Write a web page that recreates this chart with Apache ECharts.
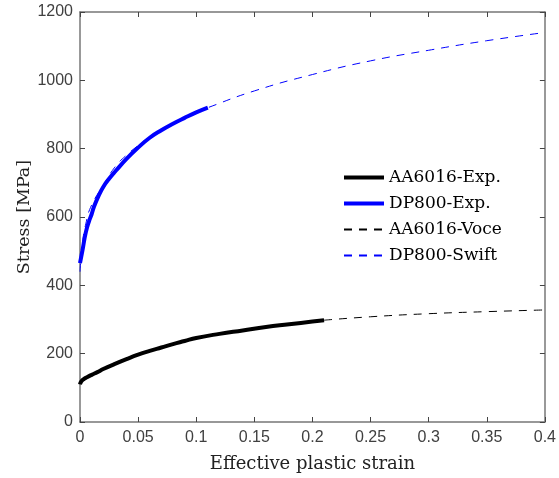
<!DOCTYPE html>
<html>
<head>
<meta charset="utf-8">
<script src="https://cdn.jsdelivr.net/npm/echarts@6/dist/echarts.min.js"></script>
<style>
  html, body { margin: 0; padding: 0; background: #fff; }
  #chart { width: 559px; height: 478px; }
</style>
</head>
<body>
<div id="chart"></div>
<script>
// AA6016 experiment
const aaExpStrain = [0, 0.001, 0.003, 0.006, 0.01, 0.015, 0.02, 0.03, 0.04, 0.05, 0.06, 0.07, 0.08, 0.09, 0.1, 0.12, 0.14, 0.16, 0.18, 0.2, 0.21];
const aaExpStress = [110, 118, 125, 131, 138, 146, 155, 170, 184, 197, 208, 218, 228, 237, 246, 258, 268, 278, 286, 294, 298];
// DP800 experiment
const dpExpStrain = [0, 0.002, 0.005, 0.008, 0.01, 0.012, 0.016, 0.02, 0.025, 0.031, 0.04, 0.05, 0.06, 0.07, 0.08, 0.09, 0.1, 0.11];
const dpExpStress = [465, 500, 555, 590, 608, 630, 662, 688, 712, 736, 770, 803, 832, 854, 873, 890, 906, 920];
// AA6016 Voce fit (extrapolated part)
const aaVoceStrain = [0.21, 0.25, 0.3, 0.35, 0.4];
const aaVoceStress = [298, 308, 317, 323, 328];
// DP800 Swift fit
const dpSwiftStrain = [0, 0.002, 0.005, 0.01, 0.02, 0.03, 0.04, 0.05, 0.06, 0.07, 0.08, 0.09, 0.1, 0.11, 0.15, 0.2, 0.25, 0.3, 0.35, 0.4];
const dpSwiftStress = [440, 520, 580, 635, 692, 746, 781, 809, 834, 855, 874, 889, 906, 920, 969, 1017, 1057, 1088, 1116, 1140];

const xTicks = [0, 0.05, 0.1, 0.15, 0.2, 0.25, 0.3, 0.35, 0.4];

function pairs(xs, ys) {
  return xs.map((x, i) => [x, ys[i]]);
}

const axisGrey = '#777';
const labelColor = '#404040';
const serif = '"DejaVu Serif", "Liberation Serif", serif';
const sans = '"Liberation Sans", Arial, sans-serif';

let chart = echarts.init(document.getElementById('chart'));

let option = {
  animation: false,
  grid: { left: 80, right: 11, top: 12, bottom: 55 },
  legend: {
    orient: 'vertical',
    left: 337,
    top: 164,
    itemWidth: 40,
    itemHeight: 20,
    itemGap: 9,
    itemStyle: { opacity: 0 },
    textStyle: { fontFamily: serif, fontSize: 17, color: '#000' },
    data: [
      { name: 'AA6016-Exp.', lineStyle: { width: 4 } },
      { name: 'DP800-Exp.', lineStyle: { width: 4 } },
      { name: 'AA6016-Voce' },
      { name: 'DP800-Swift' }
    ]
  },
  xAxis: [
    {
      type: 'value', min: 0, max: 0.4, interval: 0.05,
      name: 'Effective plastic strain', nameLocation: 'middle', nameGap: 33,
      nameTextStyle: { fontFamily: serif, fontSize: 18, color: '#222' },
      axisLine: { onZero: false, lineStyle: { color: axisGrey, width: 1.5 } },
      axisTick: { inside: true, length: 5, lineStyle: { color: '#444' } },
      axisLabel: {
        margin: 8, fontFamily: sans, fontSize: 16, color: labelColor,
        formatter: v => xTicks.includes(+v.toFixed(2)) ? String(+v.toFixed(2)) : ''
      },
      splitLine: { show: false }
    },
    {
      type: 'value', min: 0, max: 0.4, interval: 0.05, position: 'top',
      axisLine: { onZero: false, lineStyle: { color: axisGrey, width: 1.5 } },
      axisTick: { inside: true, length: 5, lineStyle: { color: '#444' } },
      axisLabel: { show: false },
      splitLine: { show: false }
    }
  ],
  yAxis: [
    {
      type: 'value', min: 0, max: 1200, interval: 200,
      name: 'Stress [MPa]', nameLocation: 'middle', nameGap: 47, nameMoveOverlap: false,
      nameTextStyle: { fontFamily: serif, fontSize: 17.5, color: '#222' },
      axisLine: { show: true, onZero: false, lineStyle: { color: axisGrey, width: 1.5 } },
      axisTick: { show: true, inside: true, length: 5, lineStyle: { color: '#444' } },
      axisLabel: { margin: 7, fontFamily: sans, fontSize: 16, color: labelColor, formatter: v => String(v) },
      splitLine: { show: false }
    },
    {
      type: 'value', min: 0, max: 1200, interval: 200, position: 'right',
      axisLine: { show: true, onZero: false, lineStyle: { color: axisGrey, width: 1.5 } },
      axisTick: { show: true, inside: true, length: 5, lineStyle: { color: '#444' } },
      axisLabel: { show: false },
      splitLine: { show: false }
    }
  ],
  series: [
    {
      name: 'AA6016-Voce', type: 'line', symbol: 'none', z: 2,
      data: pairs(aaVoceStrain, aaVoceStress), smooth: true,
      lineStyle: { color: '#000', width: 1, type: [8, 7] },
      itemStyle: { color: '#000' }
    },
    {
      name: 'DP800-Swift', type: 'line', symbol: 'none', z: 2,
      data: pairs(dpSwiftStrain, dpSwiftStress), smooth: true,
      lineStyle: { color: '#0000ff', width: 1, type: [8, 7] },
      itemStyle: { color: '#0000ff' }
    },
    {
      name: 'AA6016-Exp.', type: 'line', symbol: 'none', z: 3,
      data: pairs(aaExpStrain, aaExpStress), smooth: true,
      lineStyle: { color: '#000', width: 4 },
      itemStyle: { color: '#000' }
    },
    {
      name: 'DP800-Exp.', type: 'line', symbol: 'none', z: 3,
      data: pairs(dpExpStrain, dpExpStress), smooth: true,
      lineStyle: { color: '#0000ff', width: 4 },
      itemStyle: { color: '#0000ff' }
    }
  ]
};

chart.setOption(option);
</script>
</body>
</html>
